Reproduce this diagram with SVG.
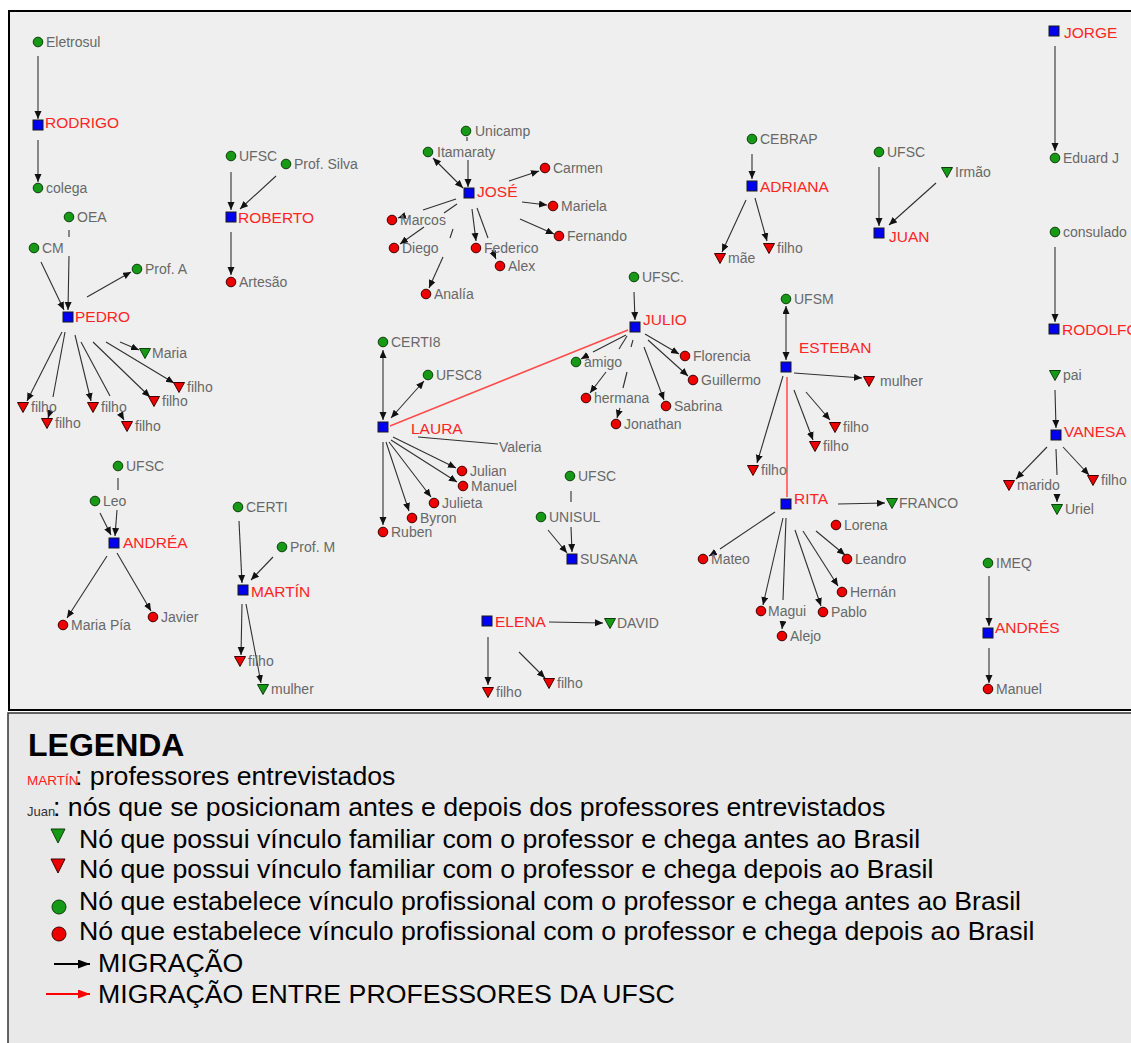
<svg xmlns="http://www.w3.org/2000/svg" xmlns:xlink="http://www.w3.org/1999/xlink" width="1131" height="1043" viewBox="0 0 1131 1043">
<style>
.t{font-family:"Liberation Sans",Arial,sans-serif;font-size:14px;fill:#686868}
.p{font-family:"Liberation Sans",Arial,sans-serif;font-size:15.5px;fill:#ff2424}
.gn{fill:#169a16;stroke:#0d3d0d;stroke-width:1}
.rn{fill:#ee0000;stroke:#3d0000;stroke-width:1}
.bn{fill:#0000f0;stroke:#1a1a1a;stroke-width:1}
.e line{stroke:#303030;stroke-width:1.1}
.e .a{marker-end:url(#ah)}
.e .bi{marker-end:url(#ah);marker-start:url(#ah2)}
.e .red{stroke:#ff4a4a;stroke-width:1.5}
.lg{font-family:"Liberation Sans",Arial,sans-serif;font-size:26.7px;fill:#000}
</style>
<defs>
<marker id="ah" markerUnits="userSpaceOnUse" markerWidth="9" markerHeight="8" refX="8" refY="3.5" orient="auto"><path d="M0,0 L8,3.5 L0,7 Z" fill="#111"/></marker>
<marker id="ah2" markerUnits="userSpaceOnUse" markerWidth="9" markerHeight="8" refX="8" refY="3.5" orient="auto-start-reverse"><path d="M0,0 L8,3.5 L0,7 Z" fill="#111"/></marker>
<marker id="ahr" markerUnits="userSpaceOnUse" markerWidth="14" markerHeight="10" refX="12" refY="4.5" orient="auto"><path d="M0,0 L12,4.5 L0,9 Z" fill="#ff0000"/></marker>
<marker id="ahb" markerUnits="userSpaceOnUse" markerWidth="14" markerHeight="10" refX="12" refY="4.5" orient="auto"><path d="M0,0 L12,4.5 L0,9 Z" fill="#000"/></marker>
<circle id="dot" r="4.8"/>
<path id="tri" d="M-5.5,-4.5 L5.5,-4.5 L0,5.5 Z"/>
<rect id="sq" x="-5" y="-5" width="10" height="10"/>
</defs>
<rect x="0" y="0" width="1131" height="1043" fill="#ffffff"/>
<rect x="9" y="11" width="1130" height="699" fill="#efefef" stroke="#000" stroke-width="2"/>
<rect x="8" y="713" width="1130" height="340" fill="#e9e9e9" stroke="#333" stroke-width="1.5"/>

<g id="connectors" class="e">
<line class="a" x1="38" y1="56" x2="38" y2="119"/>
<line class="a" x1="38" y1="140" x2="38" y2="182"/>
<line x1="69" y1="230" x2="69" y2="237"/>
<line class="a" x1="69" y1="256" x2="68" y2="310"/>
<line class="a" x1="41" y1="262" x2="64" y2="310"/>
<line class="a" x1="87" y1="297" x2="131" y2="272"/>
<line class="a" x1="120" y1="342" x2="139" y2="350"/>
<line class="a" x1="106" y1="342" x2="174" y2="383"/>
<line class="a" x1="93" y1="342" x2="150" y2="397"/>
<line class="a" x1="62" y1="332" x2="27" y2="401"/>
<line x1="65" y1="332" x2="53" y2="397"/>
<line class="a" x1="50" y1="412" x2="48" y2="418"/>
<line class="a" x1="75" y1="335" x2="91" y2="401"/>
<line x1="81" y1="342" x2="110" y2="396"/>
<line class="a" x1="120" y1="413" x2="124" y2="420"/>
<line class="a" x1="231" y1="172" x2="231" y2="210"/>
<line class="a" x1="276" y1="176" x2="240" y2="209"/>
<line class="a" x1="231" y1="232" x2="231" y2="275"/>
<line x1="467" y1="137" x2="467" y2="141"/>
<line class="a" x1="468" y1="160" x2="468" y2="187"/>
<line class="bi" x1="433" y1="158" x2="463" y2="188"/>
<line class="a" x1="509" y1="181" x2="539" y2="171"/>
<line class="a" x1="522" y1="202" x2="547" y2="205"/>
<line class="a" x1="520" y1="219" x2="554" y2="234"/>
<line x1="456" y1="199" x2="423" y2="210"/>
<line class="a" x1="404" y1="216" x2="398" y2="218"/>
<line x1="457" y1="204" x2="444" y2="213"/>
<line class="a" x1="424" y1="227" x2="400" y2="244"/>
<line x1="453" y1="229" x2="450" y2="238"/>
<line class="a" x1="443" y1="257" x2="429" y2="288"/>
<line class="a" x1="472" y1="209" x2="476" y2="241"/>
<line x1="477" y1="208" x2="488" y2="238"/>
<line class="a" x1="492" y1="250" x2="496" y2="259"/>
<line class="a" x1="752" y1="154" x2="752" y2="179"/>
<line class="a" x1="746" y1="200" x2="722" y2="252"/>
<line class="a" x1="755" y1="198" x2="767" y2="241"/>
<line class="a" x1="879" y1="167" x2="879" y2="226"/>
<line class="a" x1="936" y1="183" x2="889" y2="225"/>
<line class="a" x1="1055" y1="46" x2="1055" y2="151"/>
<line class="a" x1="1055" y1="247" x2="1055" y2="322"/>
<line class="a" x1="1055" y1="390" x2="1056" y2="428"/>
<line class="a" x1="1047" y1="447" x2="1016" y2="479"/>
<line x1="1056" y1="449" x2="1057" y2="475"/>
<line class="a" x1="1057" y1="494" x2="1057" y2="502"/>
<line class="a" x1="1063" y1="447" x2="1089" y2="475"/>
<line class="a" x1="989" y1="576" x2="989" y2="626"/>
<line class="a" x1="989" y1="648" x2="989" y2="683"/>
<line class="a" x1="634" y1="292" x2="635" y2="320"/>
<line class="a" x1="645" y1="334" x2="679" y2="354"/>
<line class="a" x1="648" y1="340" x2="688" y2="376"/>
<line class="a" x1="644" y1="347" x2="664" y2="400"/>
<line x1="626" y1="335" x2="593" y2="352"/>
<line class="a" x1="588" y1="355" x2="581" y2="359"/>
<line x1="627" y1="336" x2="619" y2="349"/>
<line class="a" x1="606" y1="372" x2="590" y2="393"/>
<line x1="633" y1="340" x2="631" y2="347"/>
<line x1="627" y1="372" x2="623" y2="388"/>
<line class="a" x1="620" y1="408" x2="617" y2="418"/>
<line class="red" x1="628" y1="330" x2="390" y2="426"/>
<line class="bi" x1="383" y1="350" x2="383" y2="420"/>
<line class="bi" x1="391" y1="418" x2="424" y2="381"/>
<line x1="418" y1="437" x2="498" y2="444"/>
<line class="a" x1="393" y1="437" x2="456" y2="468"/>
<line class="a" x1="391" y1="440" x2="457" y2="482"/>
<line class="a" x1="389" y1="442" x2="431" y2="497"/>
<line class="a" x1="386" y1="442" x2="409" y2="511"/>
<line class="a" x1="383" y1="442" x2="383" y2="525"/>
<line class="bi" x1="786" y1="306" x2="786" y2="360"/>
<line class="a" x1="794" y1="373" x2="862" y2="378"/>
<line class="a" x1="806" y1="392" x2="830" y2="420"/>
<line class="a" x1="794" y1="390" x2="813" y2="440"/>
<line class="a" x1="783" y1="376" x2="757" y2="463"/>
<line class="red" x1="787" y1="497" x2="787" y2="377"/>
<line class="a" x1="838" y1="504" x2="885" y2="503"/>
<line x1="775" y1="512" x2="720" y2="549"/>
<line class="a" x1="714" y1="553" x2="709" y2="556"/>
<line class="a" x1="783" y1="518" x2="763" y2="605"/>
<line x1="786" y1="518" x2="783" y2="600"/>
<line class="a" x1="783" y1="621" x2="782" y2="629"/>
<line class="a" x1="795" y1="530" x2="821" y2="606"/>
<line class="a" x1="803" y1="531" x2="838" y2="586"/>
<line class="a" x1="816" y1="531" x2="845" y2="555"/>
<line x1="571" y1="491" x2="571" y2="502"/>
<line class="a" x1="571" y1="527" x2="572" y2="552"/>
<line class="a" x1="548" y1="530" x2="567" y2="553"/>
<line class="a" x1="549" y1="622" x2="603" y2="623"/>
<line class="a" x1="488" y1="637" x2="488" y2="685"/>
<line class="a" x1="519" y1="652" x2="545" y2="678"/>
<line x1="118" y1="478" x2="118" y2="490"/>
<line class="a" x1="117" y1="510" x2="115" y2="536"/>
<line class="a" x1="100" y1="513" x2="111" y2="535"/>
<line class="a" x1="107" y1="556" x2="67" y2="618"/>
<line class="a" x1="117" y1="553" x2="151" y2="611"/>
<line class="a" x1="239" y1="521" x2="242" y2="583"/>
<line class="a" x1="273" y1="557" x2="251" y2="580"/>
<line class="a" x1="242" y1="604" x2="241" y2="655"/>
<line class="a" x1="246" y1="604" x2="261" y2="683"/>
</g>

<g id="nodes">
<g id="n-eletrosul"><use href="#dot" x="38" y="42" class="gn"/><text class="t" x="46" y="47">Eletrosul</text></g>
<g id="n-rodrigo"><use href="#sq" x="38" y="125" class="bn"/><text class="p" x="45" y="127.5">RODRIGO</text></g>
<g id="n-colega"><use href="#dot" x="38" y="188" class="gn"/><text class="t" x="46" y="193">colega</text></g>
<g id="n-oea"><use href="#dot" x="69" y="217" class="gn"/><text class="t" x="77" y="222">OEA</text></g>
<g id="n-cm"><use href="#dot" x="34" y="248" class="gn"/><text class="t" x="42" y="253">CM</text></g>
<g id="n-pedro"><use href="#sq" x="68" y="317" class="bn"/><text class="p" x="75" y="321.5">PEDRO</text></g>
<g id="n-profa"><use href="#dot" x="137" y="269" class="gn"/><text class="t" x="145" y="274">Prof. A</text></g>
<g id="n-maria"><use href="#tri" x="145" y="353" class="gn"/><text class="t" x="152" y="358">Maria</text></g>
<g id="n-pfilho1"><use href="#tri" x="179" y="387" class="rn"/><text class="t" x="187" y="392">filho</text></g>
<g id="n-pfilho2"><use href="#tri" x="154" y="401" class="rn"/><text class="t" x="162" y="406">filho</text></g>
<g id="n-pfilho3"><use href="#tri" x="23" y="407" class="rn"/><text class="t" x="31" y="412">filho</text></g>
<g id="n-pfilho4"><use href="#tri" x="93" y="407" class="rn"/><text class="t" x="101" y="412">filho</text></g>
<g id="n-pfilho5"><use href="#tri" x="47" y="423" class="rn"/><text class="t" x="55" y="428">filho</text></g>
<g id="n-pfilho6"><use href="#tri" x="127" y="426" class="rn"/><text class="t" x="135" y="431">filho</text></g>
<g id="n-ufsc-rob"><use href="#dot" x="231" y="156" class="gn"/><text class="t" x="239" y="161">UFSC</text></g>
<g id="n-profsilva"><use href="#dot" x="286" y="164" class="gn"/><text class="t" x="294" y="169">Prof. Silva</text></g>
<g id="n-roberto"><use href="#sq" x="231" y="217" class="bn"/><text class="p" x="238" y="222.5">ROBERTO</text></g>
<g id="n-artesao"><use href="#dot" x="231" y="282" class="rn"/><text class="t" x="239" y="287">Artesão</text></g>
<g id="n-unicamp"><use href="#dot" x="466" y="131" class="gn"/><text class="t" x="475" y="136">Unicamp</text></g>
<g id="n-itamaraty"><use href="#dot" x="428" y="152" class="gn"/><text class="t" x="437" y="157">Itamaraty</text></g>
<g id="n-jose"><use href="#sq" x="469" y="193" class="bn"/><text class="p" x="477" y="196.5">JOSÉ</text></g>
<g id="n-carmen"><use href="#dot" x="545" y="168" class="rn"/><text class="t" x="553" y="173">Carmen</text></g>
<g id="n-mariela"><use href="#dot" x="553" y="206" class="rn"/><text class="t" x="561" y="211">Mariela</text></g>
<g id="n-fernando"><use href="#dot" x="559" y="236" class="rn"/><text class="t" x="567" y="241">Fernando</text></g>
<g id="n-marcos"><use href="#dot" x="392" y="220" class="rn"/><text class="t" x="400" y="225">Marcos</text></g>
<g id="n-diego"><use href="#dot" x="394" y="248" class="rn"/><text class="t" x="402" y="253">Diego</text></g>
<g id="n-federico"><use href="#dot" x="476" y="248" class="rn"/><text class="t" x="484" y="253">Federico</text></g>
<g id="n-alex"><use href="#dot" x="500" y="266" class="rn"/><text class="t" x="508" y="271">Alex</text></g>
<g id="n-analia"><use href="#dot" x="426" y="294" class="rn"/><text class="t" x="434" y="299">Analía</text></g>
<g id="n-cebrap"><use href="#dot" x="752" y="139" class="gn"/><text class="t" x="760" y="144">CEBRAP</text></g>
<g id="n-adriana"><use href="#sq" x="752" y="186" class="bn"/><text class="p" x="760" y="191.5">ADRIANA</text></g>
<g id="n-mae"><use href="#tri" x="720" y="258" class="rn"/><text class="t" x="728" y="263">mãe</text></g>
<g id="n-afilho"><use href="#tri" x="769" y="248" class="rn"/><text class="t" x="777" y="253">filho</text></g>
<g id="n-ufsc-juan"><use href="#dot" x="879" y="152" class="gn"/><text class="t" x="887" y="157">UFSC</text></g>
<g id="n-irmao"><use href="#tri" x="947" y="172" class="gn"/><text class="t" x="955" y="177">Irmão</text></g>
<g id="n-juan"><use href="#sq" x="879" y="233" class="bn"/><text class="p" x="889" y="241.5">JUAN</text></g>
<g id="n-jorge"><use href="#sq" x="1054" y="31" class="bn"/><text class="p" x="1064" y="37.5">JORGE</text></g>
<g id="n-eduard"><use href="#dot" x="1055" y="158" class="gn"/><text class="t" x="1063" y="163">Eduard J</text></g>
<g id="n-consulado"><use href="#dot" x="1055" y="232" class="gn"/><text class="t" x="1063" y="237">consulado</text></g>
<g id="n-rodolfo"><use href="#sq" x="1054" y="329" class="bn"/><text class="p" x="1062" y="334.5">RODOLFO</text></g>
<g id="n-pai"><use href="#tri" x="1055" y="375" class="gn"/><text class="t" x="1063" y="380">pai</text></g>
<g id="n-vanesa"><use href="#sq" x="1056" y="435" class="bn"/><text class="p" x="1064" y="436.5">VANESA</text></g>
<g id="n-marido"><use href="#tri" x="1009" y="485" class="rn"/><text class="t" x="1017" y="490">marido</text></g>
<g id="n-uriel"><use href="#tri" x="1057" y="509" class="gn"/><text class="t" x="1065" y="514">Uriel</text></g>
<g id="n-vfilho"><use href="#tri" x="1093" y="480" class="rn"/><text class="t" x="1101" y="485">filho</text></g>
<g id="n-imeq"><use href="#dot" x="988" y="563" class="gn"/><text class="t" x="996" y="568">IMEQ</text></g>
<g id="n-andres"><use href="#sq" x="988" y="633" class="bn"/><text class="p" x="995" y="632.5">ANDRÉS</text></g>
<g id="n-manuel2"><use href="#dot" x="988" y="689" class="rn"/><text class="t" x="996" y="694">Manuel</text></g>
<g id="n-ufsc-julio"><use href="#dot" x="634" y="277" class="gn"/><text class="t" x="642" y="282">UFSC.</text></g>
<g id="n-julio"><use href="#sq" x="635" y="327" class="bn"/><text class="p" x="643" y="324.5">JULIO</text></g>
<g id="n-amigo"><use href="#dot" x="576" y="362" class="gn"/><text class="t" x="584" y="367">amigo</text></g>
<g id="n-florencia"><use href="#dot" x="685" y="356" class="rn"/><text class="t" x="693" y="361">Florencia</text></g>
<g id="n-guillermo"><use href="#dot" x="693" y="380" class="rn"/><text class="t" x="701" y="385">Guillermo</text></g>
<g id="n-hermana"><use href="#dot" x="586" y="398" class="rn"/><text class="t" x="594" y="403">hermana</text></g>
<g id="n-jonathan"><use href="#dot" x="616" y="424" class="rn"/><text class="t" x="624" y="429">Jonathan</text></g>
<g id="n-sabrina"><use href="#dot" x="666" y="406" class="rn"/><text class="t" x="674" y="411">Sabrina</text></g>
<g id="n-certi8"><use href="#dot" x="383" y="342" class="gn"/><text class="t" x="391" y="347">CERTI8</text></g>
<g id="n-ufsc8"><use href="#dot" x="428" y="375" class="gn"/><text class="t" x="436" y="380">UFSC8</text></g>
<g id="n-laura"><use href="#sq" x="383" y="427" class="bn"/><text class="p" x="411" y="433.5">LAURA</text></g>
<g id="n-valeria"><text class="t" x="499" y="452">Valeria</text></g>
<g id="n-julian"><use href="#dot" x="462" y="471" class="rn"/><text class="t" x="470" y="476">Julian</text></g>
<g id="n-manuel"><use href="#dot" x="463" y="486" class="rn"/><text class="t" x="471" y="491">Manuel</text></g>
<g id="n-julieta"><use href="#dot" x="434" y="503" class="rn"/><text class="t" x="442" y="508">Julieta</text></g>
<g id="n-byron"><use href="#dot" x="412" y="518" class="rn"/><text class="t" x="420" y="523">Byron</text></g>
<g id="n-ruben"><use href="#dot" x="383" y="532" class="rn"/><text class="t" x="391" y="537">Ruben</text></g>
<g id="n-ufsm"><use href="#dot" x="786" y="299" class="gn"/><text class="t" x="794" y="304">UFSM</text></g>
<g id="n-esteban"><use href="#sq" x="786" y="367" class="bn"/><text class="p" x="799" y="352.5">ESTEBAN</text></g>
<g id="n-mulher1"><use href="#tri" x="869" y="381" class="rn"/><text class="t" x="880" y="386">mulher</text></g>
<g id="n-efilho1"><use href="#tri" x="835" y="427" class="rn"/><text class="t" x="843" y="432">filho</text></g>
<g id="n-efilho2"><use href="#tri" x="815" y="446" class="rn"/><text class="t" x="823" y="451">filho</text></g>
<g id="n-efilho3"><use href="#tri" x="753" y="470" class="rn"/><text class="t" x="761" y="475">filho</text></g>
<g id="n-rita"><use href="#sq" x="786" y="504" class="bn"/><text class="p" x="794" y="503.5">RITA</text></g>
<g id="n-franco"><use href="#tri" x="892" y="503" class="gn"/><text class="t" x="899" y="508">FRANCO</text></g>
<g id="n-lorena"><use href="#dot" x="836" y="525" class="rn"/><text class="t" x="844" y="530">Lorena</text></g>
<g id="n-leandro"><use href="#dot" x="847" y="559" class="rn"/><text class="t" x="855" y="564">Leandro</text></g>
<g id="n-hernan"><use href="#dot" x="842" y="592" class="rn"/><text class="t" x="850" y="597">Hernán</text></g>
<g id="n-pablo"><use href="#dot" x="823" y="612" class="rn"/><text class="t" x="831" y="617">Pablo</text></g>
<g id="n-magui"><use href="#dot" x="761" y="611" class="rn"/><text class="t" x="768" y="616">Magui</text></g>
<g id="n-alejo"><use href="#dot" x="782" y="636" class="rn"/><text class="t" x="790" y="641">Alejo</text></g>
<g id="n-mateo"><use href="#dot" x="703" y="559" class="rn"/><text class="t" x="711" y="564">Mateo</text></g>
<g id="n-ufsc-sus"><use href="#dot" x="570" y="476" class="gn"/><text class="t" x="578" y="481">UFSC</text></g>
<g id="n-unisul"><use href="#dot" x="541" y="517" class="gn"/><text class="t" x="549" y="522">UNISUL</text></g>
<g id="n-susana"><use href="#sq" x="572" y="559" class="bn"/><text class="t" x="580" y="564">SUSANA</text></g>
<g id="n-elena"><use href="#sq" x="487" y="621" class="bn"/><text class="p" x="495" y="626.5">ELENA</text></g>
<g id="n-david"><use href="#tri" x="610" y="623" class="gn"/><text class="t" x="617" y="628">DAVID</text></g>
<g id="n-elfilho1"><use href="#tri" x="488" y="692" class="rn"/><text class="t" x="496" y="697">filho</text></g>
<g id="n-elfilho2"><use href="#tri" x="549" y="683" class="rn"/><text class="t" x="557" y="688">filho</text></g>
<g id="n-ufsc-and"><use href="#dot" x="118" y="466" class="gn"/><text class="t" x="126" y="471">UFSC</text></g>
<g id="n-leo"><use href="#dot" x="95" y="501" class="gn"/><text class="t" x="103" y="506">Leo</text></g>
<g id="n-andrea"><use href="#sq" x="114" y="543" class="bn"/><text class="p" x="123" y="547.5">ANDRÉA</text></g>
<g id="n-mariapia"><use href="#dot" x="63" y="625" class="rn"/><text class="t" x="71" y="630">Maria Pía</text></g>
<g id="n-javier"><use href="#dot" x="153" y="617" class="rn"/><text class="t" x="161" y="622">Javier</text></g>
<g id="n-certi"><use href="#dot" x="238" y="507" class="gn"/><text class="t" x="246" y="512">CERTI</text></g>
<g id="n-profm"><use href="#dot" x="282" y="547" class="gn"/><text class="t" x="290" y="552">Prof. M</text></g>
<g id="n-martin"><use href="#sq" x="243" y="590" class="bn"/><text class="p" x="251" y="596.5">MARTÍN</text></g>
<g id="n-mfilho"><use href="#tri" x="240" y="661" class="rn"/><text class="t" x="248" y="666">filho</text></g>
<g id="n-mmulher"><use href="#tri" x="263" y="689" class="gn"/><text class="t" x="271" y="694">mulher</text></g>
</g>

<g id="legend">
<text x="28" y="756" font-family="Liberation Sans, Arial, sans-serif" font-size="32" font-weight="bold" fill="#000">LEGENDA</text>
<text x="27" y="785" font-family="Liberation Sans, Arial, sans-serif" font-size="13.5" fill="#ff2020">MARTÍN</text>
<text class="lg" x="75" y="785">: professores entrevistados</text>
<text x="27" y="816" font-family="Liberation Sans, Arial, sans-serif" font-size="13" fill="#333">Juan</text>
<text class="lg" x="53" y="816">: nós que se posicionam antes e depois dos professores entrevistados</text>
<path d="M51,829 L65,829 L58,843 Z" class="gn"/>
<text class="lg" x="79" y="848">Nó que possui vínculo familiar com o professor e chega antes ao Brasil</text>
<path d="M51,859 L65,859 L58,873 Z" class="rn"/>
<text class="lg" x="79" y="878">Nó que possui vínculo familiar com o professor e chega depois ao Brasil</text>
<circle cx="59" cy="907" r="7" class="gn"/>
<text class="lg" x="79" y="910">Nó que estabelece vínculo profissional com o professor e chega antes ao Brasil</text>
<circle cx="59" cy="934" r="7" class="rn"/>
<text class="lg" x="79" y="940">Nó que estabelece vínculo profissional com o professor e chega depois ao Brasil</text>
<line x1="54" y1="964" x2="90" y2="964" stroke="#000" stroke-width="2" marker-end="url(#ahb)"/>
<text class="lg" x="98" y="972">MIGRAÇÃO</text>
<line x1="46" y1="994" x2="90" y2="994" stroke="#ff0000" stroke-width="2" marker-end="url(#ahr)"/>
<text class="lg" x="98" y="1003">MIGRAÇÃO ENTRE PROFESSORES DA UFSC</text>
</g>
</svg>
